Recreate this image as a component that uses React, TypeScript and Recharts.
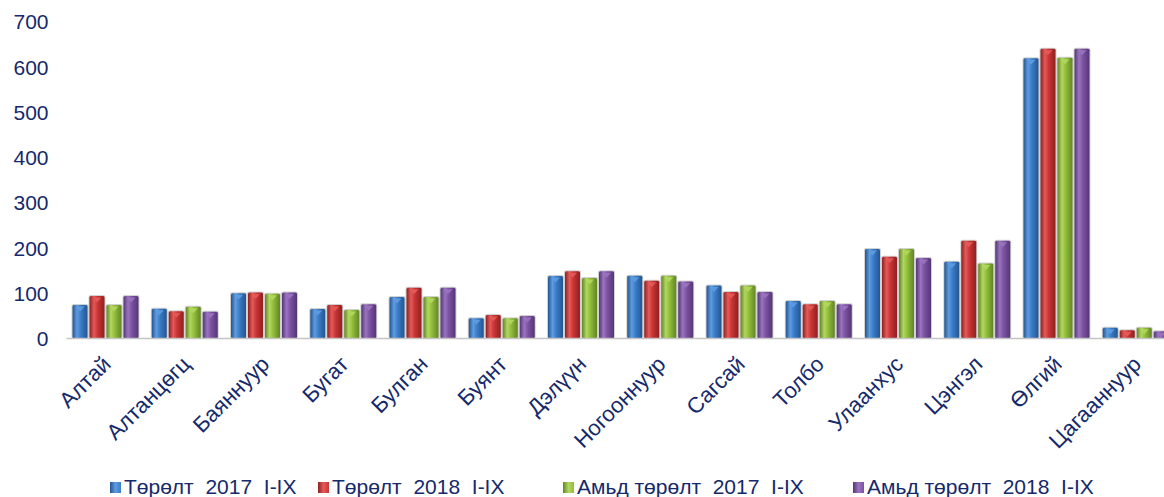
import React from 'react';
import { BarChart, Bar, XAxis, YAxis } from 'recharts';

const soums = ['Алтай', 'Алтанцөгц', 'Баяннуур', 'Бугат', 'Булган', 'Буянт', 'Дэлүүн', 'Ногооннуур', 'Сагсай', 'Толбо', 'Улаанхус', 'Цэнгэл', 'Өлгий', 'Цагааннуур'];
const birth2017 = [74, 66, 100, 65, 92, 45, 138, 139, 117, 83, 198, 170, 620, 24];
const birth2018 = [94, 60, 102, 74, 112, 52, 149, 128, 103, 76, 181, 216, 641, 18];
const live2017 = [74, 70, 99, 63, 92, 45, 134, 139, 117, 83, 198, 166, 621, 24];
const live2018 = [94, 59, 102, 76, 112, 50, 149, 126, 103, 76, 178, 216, 641, 16];
const yTicks = [0, 100, 200, 300, 400, 500, 600, 700];

const seriesNames = ['Төрөлт  2017  I-IX', 'Төрөлт  2018  I-IX', 'Амьд төрөлт  2017  I-IX', 'Амьд төрөлт  2018  I-IX'];
const seriesKeys = ['b17', 'b18', 'l17', 'l18'];

const data = soums.map((name, i) => ({
  name,
  b17: birth2017[i],
  b18: birth2018[i],
  l17: live2017[i],
  l18: live2018[i],
}));

// base, dark edge, light centre
const COLORS = [
  ['#3a7cc8', '#24558f', '#5f9ce0'],
  ['#c93434', '#8e2020', '#e45a5a'],
  ['#92bd3a', '#628526', '#b2d760'],
  ['#7c52a3', '#543674', '#9a74bf'],
];
const TEXT = '#15296b';
const FONT = '"Liberation Sans", Arial, sans-serif';

const CylBar = (props: any) => {
  const { x, y, width, height, idx } = props;
  if (!height || height <= 0) return null;
  const c = COLORS[idx];
  const tri = Math.min(5, height);
  return (
    <g>
      <rect x={x - 1} y={y - 1} width={width + 2} height={height + 1} fill="rgba(0,0,0,0.18)" rx={2} />
      <rect x={x} y={y} width={width} height={height} fill={`url(#grad${idx})`} rx={1.5} />
      <polygon
        points={`${x + 3},${y + 1.5} ${x + width - 3},${y + 1.5} ${x + width / 2},${y + 1.5 + tri}`}
        fill={c[2]}
        opacity={0.9}
      />
    </g>
  );
};

const XTick = (props: any) => {
  const { x, y, payload } = props;
  return (
    <text
      x={x + 6}
      y={y + 19}
      transform={`rotate(-45 ${x + 6} ${y + 19})`}
      textAnchor="end"
      fontSize={22}
      fontFamily={FONT}
      fill={TEXT}
    >
      {payload.value}
    </text>
  );
};

const App = () => {
  return (
    <div style={{ position: 'absolute', left: 0, top: 0, width: 1164, height: 497, overflow: 'hidden', background: '#fff' }}>
      <BarChart
        width={1176}
        height={497}
        data={data}
        margin={{ top: 22, right: 0, left: 0, bottom: 0 }}
        barCategoryGap={6}
        barGap={2}
      >
        <defs>
          {COLORS.map((c, i) => (
            <linearGradient key={i} id={`grad${i}`} x1="0" y1="0" x2="1" y2="0">
              <stop offset="0%" stopColor={c[1]} />
              <stop offset="30%" stopColor={c[2]} />
              <stop offset="55%" stopColor={c[0]} />
              <stop offset="100%" stopColor={c[1]} />
            </linearGradient>
          ))}
        </defs>
        <XAxis
          dataKey="name"
          height={158.5}
          interval={0}
          tickLine={false}
          axisLine={{ stroke: '#c4c4c4', strokeWidth: 1.5 }}
          tick={<XTick />}
        />
        <YAxis
          width={66.5}
          domain={[0, 700]}
          ticks={yTicks}
          axisLine={false}
          tickLine={false}
          tickSize={0}
          tickMargin={18}
          tick={{ fill: TEXT, fontSize: 21, fontFamily: FONT }}
        />
        {seriesKeys.map((k, i) => (
          <Bar key={k} dataKey={k} name={seriesNames[i]} isAnimationActive={false} shape={(p: any) => <CylBar {...p} idx={i} />} />
        ))}
      </BarChart>
      <div
        style={{
          position: 'absolute',
          top: 475,
          left: 0,
          width: 1164,
          height: 24,
          fontFamily: FONT,
          fontSize: 21,
          lineHeight: '24px',
          color: TEXT,
          whiteSpace: 'pre',
        }}
      >
        {seriesNames.map((n, i) => (
          <div key={n} style={{ position: 'absolute', left: [110, 318, 563, 853][i], top: 0, display: 'flex', alignItems: 'center' }}>
            <span
              style={{
                display: 'inline-block',
                width: 11,
                height: 11,
                marginRight: 3,
                background: `linear-gradient(to right, ${COLORS[i][1]}, ${COLORS[i][2]}, ${COLORS[i][0]})`,
              }}
            />
            <span>{n}</span>
          </div>
        ))}
      </div>
    </div>
  );
};

export default App;
